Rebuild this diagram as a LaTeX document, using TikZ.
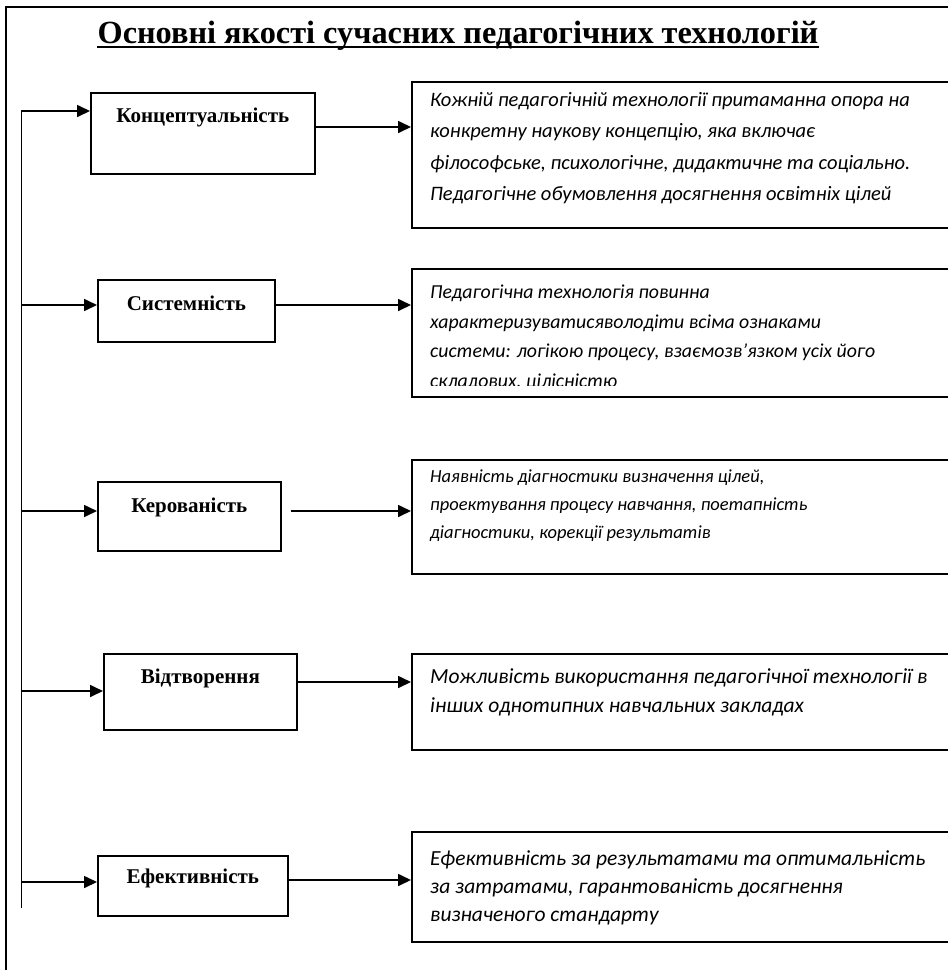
\documentclass[tikz,border=0pt]{standalone}
\usepackage{fontspec}
\setmainfont{Liberation Serif}
\newfontfamily\descfont{Carlito}
\usetikzlibrary{arrows.meta}
\newcommand\dtop{\rule{0pt}{20pt}}
\begin{document}
\begin{tikzpicture}[x=1pt,y=-1pt,
  frameline/.style={line width=2.6pt},
  box/.style={draw, line width=1.7pt, anchor=north west, inner sep=0pt},
  lbl/.style={font=\bfseries\fontsize{21}{24}\selectfont, inner sep=0pt},
  desc/.style={align=left, anchor=north west, inner sep=0pt},
  conn/.style={line width=1.7pt, -{Triangle[length=13pt,width=12pt]}},
  ttl/.style={font=\bfseries\fontsize{32.3}{36}\selectfont, inner sep=0pt}
]
\clip (0,0) rectangle (948,970);
\fill[white] (0,0) rectangle (948,970);
% outer frame
\draw[frameline] (960,7) -- (6,7) -- (6,980);
% title
\node[ttl, anchor=base] (title) at (458,43) {Основні якості сучасних педагогічних технологій};
\draw[line width=1.6pt] ([yshift=-4pt]title.base west) -- ([yshift=-4pt]title.base east);
% label boxes
\node[box, minimum width=224pt, minimum height=81pt] (b1) at (90,92) {};
\node[box, minimum width=177pt, minimum height=62pt] (b2) at (97,279) {};
\node[box, minimum width=183pt, minimum height=69pt] (b3) at (97,481) {};
\node[box, minimum width=193pt, minimum height=76pt] (b4) at (103,653) {};
\node[box, minimum width=190pt, minimum height=60pt] (b5) at (97,855) {};
\node[lbl] (l1) at (b1.center |- 0,117) {Концептуальність};
\node[lbl] (l2) at (b2.center |- 0,303) {Системність};
\node[lbl] (l3) at (b3.center |- 0,507) {Керованість};
\node[lbl] (l4) at (b4.center |- 0,678) {Відтворення};
\node[lbl] (l5) at (b5.center |- 0,878) {Ефективність};
% description boxes
\node[box, minimum width=600pt, minimum height=146pt] (d1) at (411,81) {};
\node[box, minimum width=600pt, minimum height=128pt] (d2) at (411,268) {};
\node[box, minimum width=600pt, minimum height=114pt] (d3) at (411,459) {};
\node[box, minimum width=600pt, minimum height=96pt] (d4) at (411,653) {};
\node[box, minimum width=600pt, minimum height=110pt] (d5) at (411,831) {};
\node[desc, font=\descfont\itshape\fontsize{20.5}{31.5}\selectfont] (t1) at (430,86) {\dtop Кожній педагогічній технології притаманна опора на\\
конкретну наукову концепцію, яка включає\\
філософське, психологічне, дидактичне та соціально.\\
Педагогічне обумовлення досягнення освітніх цілей};
\begin{scope}
\clip (411,268) rectangle (948,385);
\node[desc, font=\descfont\itshape\fontsize{19.8}{29.5}\selectfont] (t2) at (430,278.6) {\dtop Педагогічна технологія повинна\\
характеризуватисяволодіти всіма ознаками\\
системи: логікою процесу, взаємозв’язком усіх його\\
складових, цілісністю};
\end{scope}
\node[desc, font=\descfont\itshape\fontsize{18.5}{28}\selectfont] (t3) at (430,462.5) {\dtop Наявність діагностики визначення цілей,\\
проектування процесу навчання, поетапність\\
діагностики, корекції результатів};
\node[desc, font=\descfont\itshape\fontsize{21.5}{29}\selectfont] (t4) at (430,663) {\dtop Можливість використання педагогічної технології в\\
інших однотипних навчальних закладах};
\node[desc, font=\descfont\itshape\fontsize{21.5}{28}\selectfont] (t5) at (430,845) {\dtop Ефективність за результатами та оптимальність\\
за затратами, гарантованість досягнення\\
визначеного стандарту};
% trunk and connectors
\coordinate (ttop) at (21.5,111);
\coordinate (tbot) at (21.5,908);
\coordinate (y2) at (0,305);
\coordinate (y3) at (0,511);
\coordinate (y4) at (0,691);
\coordinate (y5) at (0,882);
\draw[conn] (tbot) -- (ttop) -- (ttop -| b1.west);
\draw[conn] (ttop |- y2) -- (y2 -| b2.west);
\draw[conn] (ttop |- y3) -- (y3 -| b3.west);
\draw[conn] (ttop |- y4) -- (y4 -| b4.west);
\draw[conn] (ttop |- y5) -- (y5 -| b5.west);
\coordinate (o1) at (0,127);
\coordinate (o4) at (0,682);
\coordinate (o5) at (0,880);
\draw[conn] (o1 -| b1.east) -- (o1 -| d1.west);
\draw[conn] (y2 -| b2.east) -- (y2 -| d2.west);
\draw[conn] ([xshift=9pt]y3 -| b3.east) -- (y3 -| d3.west);
\draw[conn] (o4 -| b4.east) -- (o4 -| d4.west);
\draw[conn] (o5 -| b5.east) -- (o5 -| d5.west);
\end{tikzpicture}
\end{document}
